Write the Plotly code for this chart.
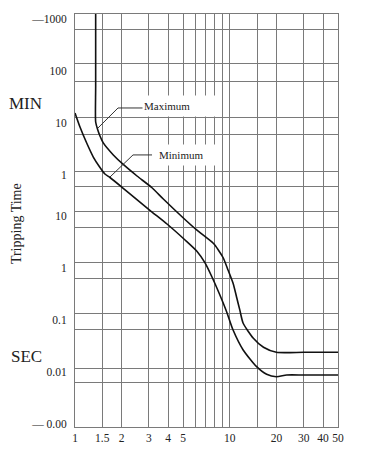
import math
import plotly.graph_objects as go

# ---- data (x: multiples of rated current, y: tripping time in seconds) ----
max_x = [1.36, 1.36, 1.36, 1.397, 1.45, 1.523, 1.768, 2.05, 2.515, 3.13, 3.72, 5.01, 6.11, 7.82,
         8.43, 9.08, 9.74, 10.5, 11.1, 11.6, 12.2, 14.2, 16.5, 20.0, 30.0, 50.0]
max_y = [100000, 3000, 631, 463, 340, 250, 147, 96.4, 57.9, 34.8, 20.9, 9.04, 5.32, 2.95,
         2.20, 1.54, 0.908, 0.504, 0.263, 0.155, 0.0859, 0.0443, 0.0297, 0.0238, 0.0238, 0.0238]

min_x = [1.0, 1.077, 1.19, 1.313, 1.45, 1.56, 1.683, 2.05, 2.50, 3.13, 3.93, 5.14, 6.11,
         6.92, 7.67, 8.52, 9.55, 10.5, 12.2, 14.9, 17.3, 20.0, 23.3, 30.0, 50.0]
min_y = [940, 506, 249, 134, 84.3, 63.2, 54.2, 33.6, 20.5, 11.9, 6.93, 3.42, 2.10,
         1.24, 0.665, 0.328, 0.142, 0.0638, 0.0264, 0.0126, 0.0090, 0.0081, 0.00873, 0.00873, 0.00873]

# x axis: gridline positions and labels
x_grid = [1, 1.5, 2, 3, 4, 5, 6, 7, 8, 9, 10, 15, 20, 30, 40, 50]
x_text = ["1", "1.5", "2", "3", "4", "5", "", "", "", "", "10", "", "20", "30", "40", "50"]

# y axis: label positions (seconds) and their texts (minutes above, seconds below)
y_label_vals = [60000, 6000, 600, 60, 10, 1, 0.1, 0.01, 0.001]
y_label_text = ["—1000", "100", "10", "1", "10", "1", "0.1", "0.01", "— 0.00"]
# horizontal gridlines (seconds)
y_grid = [36900, 8200, 3865, 762, 366, 70, 36.1, 11.9, 6.0, 1.27, 0.61, 0.134, 0.0659, 0.01175, 0.0062]
y_range = [0.000875, 74800]

# leader lines for the two labels
lead_max_x = [2.75, 1.896, 1.408]
lead_max_y = [1172, 1172, 484]
lead_min_x = [3.145, 2.37, 1.683]
lead_min_y = [147, 147, 55.4]

yr = [math.log10(y_range[0]), math.log10(y_range[1])]
xr = [0, math.log10(50)]

SERIF = "Liberation Serif, Times New Roman, serif"
GRID = "#7a7a7a"

fig = go.Figure()
fig.add_trace(go.Scatter(x=max_x, y=max_y, mode="lines",
                         line=dict(color="#111", width=1.6, shape="spline", smoothing=0.6),
                         hoverinfo="skip", showlegend=False))
fig.add_trace(go.Scatter(x=min_x, y=min_y, mode="lines",
                         line=dict(color="#111", width=1.6, shape="spline", smoothing=0.6),
                         hoverinfo="skip", showlegend=False))
fig.add_trace(go.Scatter(x=lead_max_x, y=lead_max_y, mode="lines", line=dict(color="#333", width=1),
                         hoverinfo="skip", showlegend=False))
fig.add_trace(go.Scatter(x=lead_min_x, y=lead_min_y, mode="lines", line=dict(color="#333", width=1),
                         hoverinfo="skip", showlegend=False))
# invisible trace for the grid axis
fig.add_trace(go.Scatter(x=[1], y=[1], mode="markers", marker=dict(opacity=0), yaxis="y2",
                         hoverinfo="skip", showlegend=False))

fig.update_layout(
    width=370, height=450,
    margin=dict(l=67, r=40, t=6, b=31),
    paper_bgcolor="white", plot_bgcolor="white",
    font=dict(family=SERIF, color="#222", size=11),
    xaxis=dict(type="log", range=xr, tickvals=x_grid, ticktext=x_text,
               showgrid=True, gridcolor=GRID, gridwidth=1, zeroline=False,
               showline=True, linecolor=GRID, linewidth=1, mirror=True,
               ticks="", tickfont=dict(family=SERIF, size=11.5, color="#222")),
    yaxis=dict(type="log", range=yr, tickvals=y_label_vals, ticktext=y_label_text,
               showgrid=False, zeroline=False, showline=True, linecolor=GRID, linewidth=1,
               mirror=True, ticks="", ticklabelstandoff=5,
               tickfont=dict(family=SERIF, size=11.5, color="#222")),
    yaxis2=dict(type="log", range=yr, overlaying="y", side="left", tickvals=y_grid,
                showticklabels=False, showgrid=True, gridcolor=GRID, gridwidth=1,
                zeroline=False, showline=False, ticks=""),
    annotations=[
        dict(text="MIN", xref="paper", yref="paper", x=-0.19, y=0.7845, showarrow=False,
             xanchor="center", yanchor="middle",
             font=dict(family=SERIF, size=17, color="#222")),
        dict(text="SEC", xref="paper", yref="paper", x=-0.186, y=0.1695, showarrow=False,
             xanchor="center", yanchor="middle",
             font=dict(family=SERIF, size=17, color="#222")),
        dict(text="Tripping Time", xref="paper", yref="paper", x=-0.224, y=0.4915, showarrow=False,
             xanchor="center", yanchor="middle",
             textangle=-90, font=dict(family=SERIF, size=14, color="#222")),
        dict(text="Maximum", xref="x", yref="y", x=math.log10(2.71), y=math.log10(1280),
             xanchor="left", yanchor="middle", align="left", width=72, height=18,
             showarrow=False, bgcolor="white", borderpad=1,
             font=dict(family=SERIF, size=11, color="#222")),
        dict(text="Minimum", xref="x", yref="y", x=math.log10(3.40), y=math.log10(147),
             xanchor="left", yanchor="middle", align="left", width=60, height=18,
             showarrow=False, bgcolor="white", borderpad=1,
             font=dict(family=SERIF, size=11, color="#222")),
    ],
)

fig.write_html("out.html")
